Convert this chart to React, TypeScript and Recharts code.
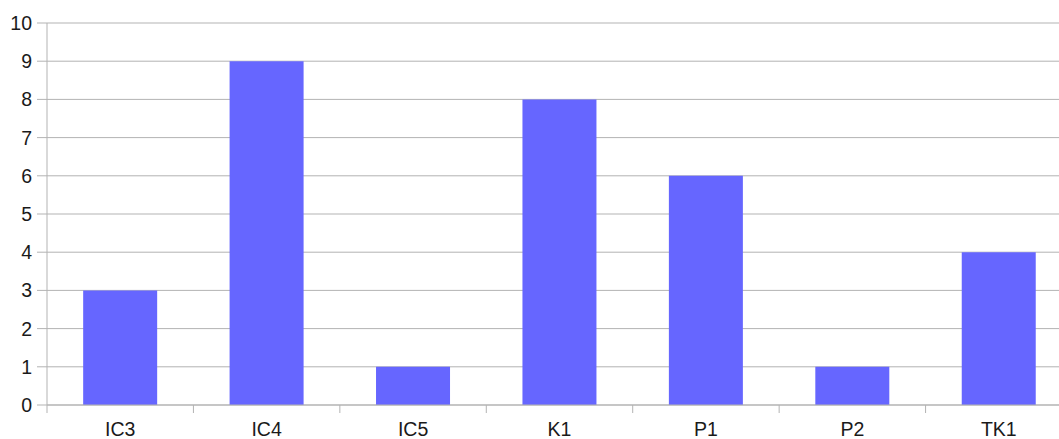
import { BarChart, Bar, XAxis, YAxis, CartesianGrid } from 'recharts'

const categories = ['IC3', 'IC4', 'IC5', 'K1', 'P1', 'P2', 'TK1']
const counts = [3, 9, 1, 8, 6, 1, 4]
const yTicks = [0, 1, 2, 3, 4, 5, 6, 7, 8, 9, 10]

const data = categories.map((name, i) => ({ name, value: counts[i] }))

const CHART_W = 1072
const AXIS_W = 47
const BAND = (CHART_W - AXIS_W) / categories.length

function CategoryTick(props: any) {
  const { x, y, payload } = props
  const left = x - BAND / 2
  return (
    <g>
      <line x1={left} y1={405} x2={left} y2={413} stroke="#b3b3b3" />
      <text x={x} y={y} dy={23} textAnchor="middle" fill="#1a1a1a" fontSize={19.5}>
        {payload.value}
      </text>
    </g>
  )
}

export default function App() {
  return (
    <div style={{ position: 'absolute', left: 0, top: 0, width: 1059, height: 439, overflow: 'hidden', background: '#fff', fontFamily: '"Liberation Sans", Arial, sans-serif' }}>
      <BarChart width={CHART_W} height={439} data={data} margin={{ top: 23, right: 0, bottom: 0, left: 0 }} barCategoryGap="24.7%">
        <CartesianGrid vertical={false} stroke="#b3b3b3" />
        <XAxis
          dataKey="name"
          height={34}
          axisLine={{ stroke: '#b3b3b3' }}
          tickLine={false}
          tick={<CategoryTick />}
          interval={0}
        />
        <YAxis
          width={AXIS_W}
          domain={[0, 10]}
          ticks={yTicks}
          interval={0}
          axisLine={{ stroke: '#b3b3b3' }}
          tickLine={{ stroke: '#b3b3b3' }}
          tickSize={10}
          tickMargin={5}
          tick={{ fill: '#1a1a1a', fontSize: 19.5 }}
        />
        <Bar dataKey="value" fill="#6666ff" isAnimationActive={false} />
      </BarChart>
    </div>
  )
}
